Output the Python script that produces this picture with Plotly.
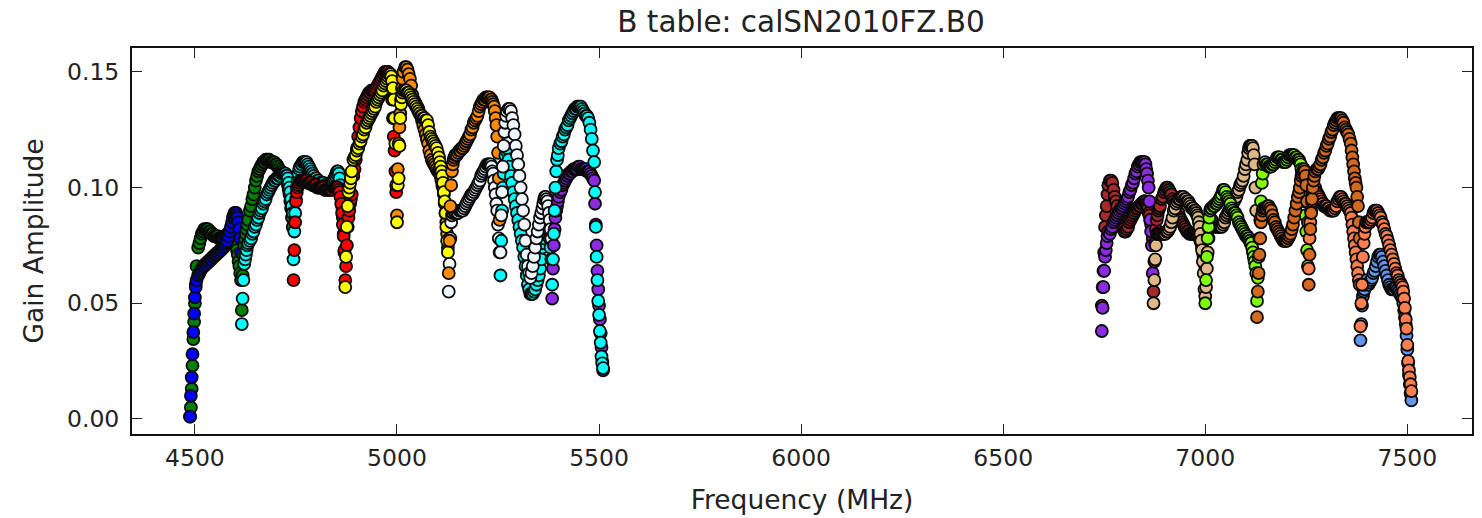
import plotly.graph_objects as go

TITLE = "B table: calSN2010FZ.B0"
XLABEL = "Frequency (MHz)"
YLABEL = "Gain Amplitude"

# channel offsets (MHz) from the start of each spectral window
OFFSETS = [0,2,4,6,8,10,12,14,16,
           20,23,26,29,32,35,38,41,44,47,50,53,56,59,62,65,68,71,74,77,80,83,86,89,92,95,98,101,
           104,106,108,110,112,114,116,118,120,122,124,126]

GREEN = "#008000"; BLUE = "#0000FF"; CYAN = "#00FFFF"; RED = "#FF0000"
YELLOW = "#FFFF00"; ORANGE = "#FF8C00"; WHITE = "#F0F8FF"; VIOLET = "#8A2BE2"
BROWN = "#A52A2A"; TAN = "#DEB887"; LIME = "#7FFF00"; CHOCO = "#D2691E"
CORAL = "#FF7F50"; CORNFLOWER = "#6495ED"

s0_green = [.001,.005,.013,.023,.0345,.042,.050,.058,.066,
            .074,.076,.078,.080,.081,.082,.082,.082,.082,.081,.081,.080,.080,.079,.079,.079,.079,.078,.078,.078,.078,.078,.079,.079,.080,.080,.081,.081,
            .081,.080,.079,.078,.077,.075,.073,.071,.068,.066,.063,.060]
s0_blue = [.001,.010,.018,.028,.0375,.0455,.0525,.057,.060,
           .062,.063,.064,.065,.066,.066,.067,.067,.068,.068,.069,.069,.070,.070,.071,.071,.072,.072,.073,.073,.074,.074,.075,.076,.077,.079,.081,.083,
           .085,.087,.088,.089,.089,.089,.088,.087,.085,.082,.078,.072]
s1_green = [.047,.062,.071,.075,.078,.080,.082,.084,.086,
            .090,.092,.095,.097,.100,.103,.105,.107,.108,.109,.110,.111,.111,.112,.112,.112,.112,.111,.111,.111,.111,.110,.110,.109,.108,.107,.107,.106,
            .106,.106,.105,.104,.103,.101,.099,.097,.094,.091,.087,.083]
s1_cyan = [.041,.052,.060,.067,.069,.071,.073,.075,.076,
           .077,.078,.080,.081,.083,.084,.086,.087,.089,.090,.091,.093,.094,.095,.097,.098,.099,.100,.101,.102,.103,.103,.104,.104,.105,.105,.106,.106,
           .106,.106,.106,.105,.105,.104,.102,.100,.098,.095,.092,.089]
s2_cyan = [.069,.081,.089,.095,.100,.103,.106,.108,.109,
           .110,.111,.111,.111,.111,.110,.109,.108,.107,.106,.105,.104,.104,.103,.103,.102,.102,.102,.102,.101,.101,.101,.101,.101,.101,.102,.103,.104,
           .105,.106,.107,.107,.106,.104,.101,.097,.092,.087,.080,.072]
s2_red = [.060,.073,.085,.094,.098,.100,.101,.102,.103,
          .103,.103,.103,.103,.103,.102,.102,.102,.102,.101,.101,.101,.101,.100,.100,.100,.100,.100,.100,.099,.099,.099,.099,.099,.099,.099,.100,.100,
          .100,.100,.100,.100,.099,.098,.096,.093,.089,.084,.079,.073]
s3_red = [.060,.066,.075,.083,.087,.090,.093,.095,.097,
          .105,.108,.112,.117,.122,.126,.130,.133,.135,.137,.138,.139,.140,.141,.141,.142,.142,.142,.142,.143,.144,.145,.146,.147,.148,.149,.150,.150,
          .150,.150,.149,.148,.146,.143,.138,.130,.122,.116,.107,.098]
s3_yellow = [.057,.070,.083,.092,.098,.100,.102,.104,.107,
             .112,.113,.114,.116,.117,.119,.120,.122,.123,.125,.126,.128,.129,.130,.131,.132,.133,.134,.135,.137,.138,.139,.140,.141,.142,.144,.145,.146,
             .147,.148,.149,.149,.149,.148,.146,.143,.138,.130,.119,.101]
s4_orange = [.088,.108,.119,.126,.132,.138,.143,.147,.150,
             .152,.152,.151,.149,.147,.144,.140,.138,.137,.136,.135,.134,.132,.131,.129,.127,.125,.123,.121,.119,.116,.114,.112,.111,.110,.109,.108,.107,
             .107,.106,.105,.103,.101,.100,.097,.093,.089,.085,.080,.074]
s4_yellow = [.085,.101,.104,.118,.130,.136,.139,.141,.142,
             .142,.142,.141,.141,.140,.139,.138,.137,.136,.135,.134,.133,.132,.131,.131,.130,.130,.129,.129,.127,.124,.122,.121,.120,.119,.118,.117,.115,
             .113,.111,.109,.107,.105,.102,.098,.094,.089,.083,.077,.072]
s5_orange = [.063,.077,.092,.101,.107,.110,.112,.113,.114,
             .114,.115,.116,.116,.117,.117,.118,.119,.120,.121,.122,.123,.125,.126,.128,.129,.130,.131,.133,.135,.136,.137,.138,.138,.139,.139,.139,.139,
             .138,.138,.137,.136,.135,.133,.130,.127,.122,.115,.104,.086]
s5_white = [.055,.067,.078,.085,.088,.089,.090,.090,.089,
            .089,.089,.090,.090,.090,.090,.091,.092,.093,.094,.095,.096,.097,.097,.098,.099,.100,.101,.102,.103,.105,.106,.107,.108,.109,.110,.110,.110,
            .110,.109,.107,.106,.103,.100,.097,.093,.090,.084,.078,.072]
s6_cyan = [.062,.077,.090,.100,.106,.110,.114,.116,.117,
           .112,.109,.105,.102,.098,.095,.092,.089,.086,.083,.080,.077,.074,.070,.066,.062,.058,.056,.054,.054,.054,.055,.056,.058,.060,.062,.065,.069,
           .074,.076,.078,.080,.082,.084,.085,.084,.082,.078,.074,.069]
s6_white = [.072,.088,.098,.109,.118,.124,.128,.131,.133,
            .134,.134,.133,.130,.127,.123,.118,.114,.110,.105,.100,.095,.090,.084,.077,.071,.066,.063,.061,.063,.066,.070,.074,.078,.081,.084,.087,.089,
            .091,.093,.095,.096,.096,.095,.094,.092,.089,.086,.082,.078]
s7_cyan = [.058,.069,.080,.090,.100,.107,.112,.114,.117,
           .119,.120,.122,.123,.125,.126,.127,.129,.130,.131,.132,.133,.134,.134,.135,.135,.135,.135,.134,.133,.132,.131,.131,.130,.128,.125,.121,.116,
           .111,.098,.083,.070,.060,.051,.045,.038,.033,.027,.024,.022]
s7_violet = [.052,.065,.075,.082,.087,.090,.092,.094,.096,
             .098,.099,.101,.102,.103,.104,.105,.106,.106,.107,.107,.108,.108,.108,.108,.109,.109,.108,.108,.108,.108,.108,.107,.107,.107,.106,.105,.104,
             .103,.093,.084,.075,.064,.056,.049,.043,.037,.031,.025,.021]
s8_violet = [.038,.048,.057,.064,.070,.073,.076,.079,.081,
             .080,.082,.083,.085,.086,.087,.088,.089,.090,.091,.091,.092,.093,.094,.095,.096,.098,.099,.101,.102,.104,.106,.107,.109,.110,.111,.111,.111,
             .111,.111,.110,.108,.106,.103,.100,.094,.086,.081,.075,.063]
s8_brown = [.049,.057,.064,.072,.083,.088,.092,.097,.101,
            .103,.103,.102,.099,.096,.094,.092,.089,.087,.085,.083,.082,.081,.081,.082,.083,.085,.086,.087,.088,.089,.090,.091,.091,.092,.092,.093,.093,
            .094,.094,.094,.093,.092,.091,.089,.088,.086,.084,.081,.078]
s9_tan = [.050,.060,.069,.075,.080,.080,.080,.080,.080,
          .080,.080,.080,.080,.081,.081,.082,.083,.085,.087,.090,.091,.093,.094,.095,.095,.096,.096,.096,.095,.095,.094,.094,.093,.092,.091,.091,.090,
          .090,.089,.088,.087,.085,.083,.080,.077,.073,.068,.063,.056]
s9_brown = [.055,.068,.076,.082,.086,.088,.090,.091,.092,
            .095,.096,.098,.099,.100,.100,.099,.098,.097,.095,.094,.093,.092,.090,.089,.087,.086,.085,.084,.083,.082,.081,.081,.080,.080,.080,.080,.080,
            .080,.080,.080,.079,.079,.078,.077,.076,.074,.072,.070,.067]
s10_lime = [.050,.060,.070,.078,.083,.087,.090,.091,.091,
            .092,.092,.093,.093,.094,.095,.096,.097,.099,.099,.098,.096,.095,.094,.093,.091,.090,.089,.089,.088,.087,.085,.084,.083,.082,.081,.080,.079,
            .079,.078,.078,.077,.076,.076,.074,.072,.070,.068,.066,.063]
s10_tan = [.053,.057,.065,.072,.078,.082,.085,.086,.086,
           .084,.084,.083,.083,.083,.083,.083,.083,.084,.085,.087,.088,.089,.090,.091,.092,.093,.094,.095,.096,.098,.099,.101,.102,.103,.105,.108,.110,
           .112,.115,.117,.118,.118,.118,.118,.117,.114,.110,.100,.090]
s11_lime = [.051,.061,.070,.078,.086,.094,.102,.106,.110,
            .111,.110,.110,.109,.109,.109,.110,.110,.111,.112,.113,.113,.113,.112,.112,.111,.111,.111,.112,.113,.114,.114,.114,.114,.114,.113,.113,.112,
            .112,.111,.110,.108,.106,.102,.098,.094,.088,.081,.073,.066]
s11_choco = [.044,.055,.063,.071,.078,.085,.088,.090,.091,
             .091,.091,.092,.092,.091,.090,.088,.086,.085,.083,.082,.081,.080,.079,.078,.077,.077,.077,.077,.078,.079,.080,.082,.084,.087,.090,.093,.096,
             .098,.100,.103,.105,.106,.107,.108,.107,.105,.101,.094,.085]
s12_choco = [.058,.071,.082,.089,.095,.100,.103,.105,.107,
             .108,.108,.109,.110,.112,.113,.115,.116,.118,.119,.121,.122,.124,.125,.127,.128,.129,.130,.130,.130,.130,.129,.128,.126,.125,.124,.123,.121,
             .119,.116,.113,.110,.107,.104,.102,.100,.096,.092,.085,.078]
s12_coral = [.065,.078,.085,.090,.094,.097,.099,.100,.100,
             .098,.097,.096,.095,.094,.093,.092,.092,.092,.091,.091,.090,.090,.090,.090,.091,.092,.094,.095,.096,.096,.095,.094,.093,.093,.092,.091,.090,
             .089,.087,.084,.081,.078,.075,.072,.069,.066,.063,.060,.058]
s13_blue = [.034,.041,.049,.053,.055,.056,.058,.059,.060,
            .058,.059,.060,.061,.063,.064,.066,.068,.070,.071,.071,.070,.068,.066,.064,.062,.060,.058,.057,.056,.056,.056,.057,.057,.056,.055,.054,.053,
            .052,.050,.047,.044,.041,.036,.030,.024,.019,.015,.011,.008]
s13_coral = [.040,.050,.058,.070,.076,.080,.083,.085,.085,
             .085,.085,.086,.087,.089,.090,.090,.090,.089,.088,.087,.085,.084,.082,.080,.079,.077,.075,.073,.071,.069,.067,.065,.063,.062,.060,.059,.058,
             .057,.055,.052,.048,.043,.039,.032,.025,.021,.018,.015,.012]

SERIES = [
    (4488, GREEN, s0_green), (4488, BLUE, s0_blue),
    (4616, GREEN, s1_green), (4616, CYAN, s1_cyan),
    (4744, CYAN, s2_cyan), (4744, RED, s2_red),
    (4872, RED, s3_red), (4872, YELLOW, s3_yellow),
    (5000, ORANGE, s4_orange), (5000, YELLOW, s4_yellow),
    (5128, WHITE, s5_white), (5128, ORANGE, s5_orange),
    (5256, CYAN, s6_cyan), (5256, WHITE, s6_white),
    (5384, VIOLET, s7_violet), (5384, CYAN, s7_cyan),
    (6744, BROWN, s8_brown), (6744, VIOLET, s8_violet),
    (6872, BROWN, s9_brown), (6872, TAN, s9_tan),
    (7000, TAN, s10_tan), (7000, LIME, s10_lime),
    (7128, LIME, s11_lime), (7128, CHOCO, s11_choco),
    (7256, CORAL, s12_coral), (7256, CHOCO, s12_choco),
    (7384, CORNFLOWER, s13_blue), (7384, CORAL, s13_coral),
]

fig = go.Figure()
for start, colour, gains in SERIES:
    fig.add_trace(go.Scatter(
        x=[start + o for o in OFFSETS], y=gains, mode="markers",
        marker=dict(size=12, color=colour, line=dict(color="#0a0a0a", width=1.8)),
        showlegend=False,
    ))

FONT = "DejaVu Sans"
axis = dict(showline=True, linecolor="#111111", linewidth=2, mirror="ticks",
            ticks="inside", ticklen=10, tickwidth=1.3, tickcolor="#222222",
            showgrid=False, zeroline=False,
            tickfont=dict(family=FONT, size=23.5, color="#222222"))

fig.update_layout(
    width=1482, height=518, autosize=False,
    margin=dict(l=132, r=8, t=48, b=83),
    paper_bgcolor="white", plot_bgcolor="white",
    title=dict(text=TITLE, x=801 / 1482, xanchor="center", y=0.958, yanchor="middle",
               font=dict(family=FONT, size=29.5, color="#222222")),
    xaxis=dict(axis, range=[4344.3, 7660], tickvals=[4500, 5000, 5500, 6000, 6500, 7000, 7500],
               ticklabelstandoff=2,
               title=dict(text=XLABEL, standoff=19, font=dict(family=FONT, size=26.5, color="#222222"))),
    yaxis=dict(axis, range=[-0.0065, 0.1603], tickvals=[0, 0.05, 0.10, 0.15], tickformat=".2f",
               ticklabelstandoff=6,
               title=dict(text=YLABEL, standoff=16, font=dict(family=FONT, size=26.5, color="#222222"))),
)
fig.write_html("out.html", post_script="document.body.style.margin='0';",
               config={"displayModeBar": False})
